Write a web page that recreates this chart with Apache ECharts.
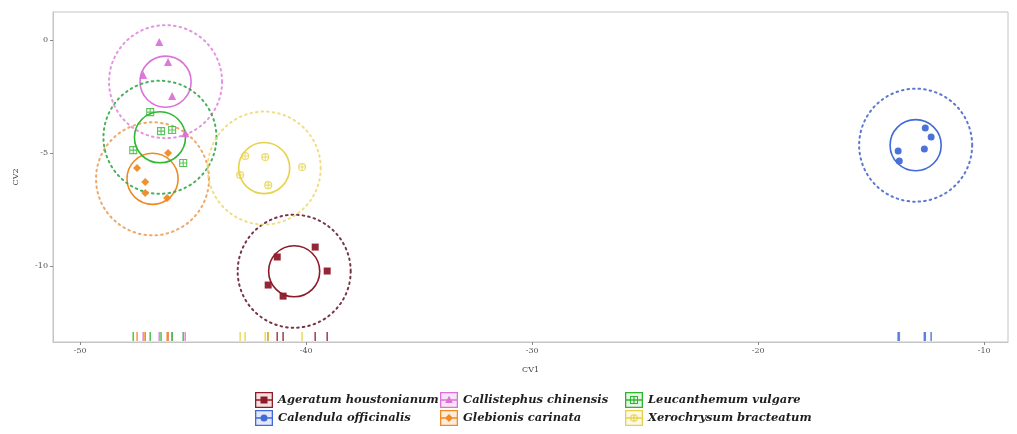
<!DOCTYPE html>
<html>
<head>
<meta charset="utf-8">
<style>
  html, body { margin: 0; padding: 0; background: #ffffff; }
  #chart { width: 1017px; height: 434px; }
</style>
<script src="https://cdn.jsdelivr.net/npm/echarts@6/dist/echarts.min.js"></script>
</head>
<body>
<div id="chart"></div>
<script>
// Canonical variate scores (CV1, CV2) for five specimens per species
const speciesNames = [
  'Ageratum houstonianum', 'Calendula officinalis', 'Callistephus chinensis',
  'Glebionis carinata', 'Leucanthemum vulgare', 'Xerochrysum bracteatum'
];
const ageratumPts     = [[-41.28, -9.60], [-39.60, -9.16], [-39.07, -10.22], [-41.68, -10.84], [-41.02, -11.33]];
const calendulaPts    = [[-12.61, -3.89], [-12.35, -4.29], [-12.65, -4.82], [-13.81, -4.91], [-13.76, -5.35]];
const callistephusPts = [[-46.50, -0.09], [-46.11, -0.97], [-47.21, -1.55], [-45.93, -2.48], [-45.35, -4.12]];
const glebionisPts    = [[-46.11, -5.00], [-47.48, -5.66], [-47.12, -6.28], [-46.15, -6.99], [-47.12, -6.77]];
const leucanthemumPts = [[-47.65, -4.87], [-46.90, -3.19], [-46.42, -4.03], [-45.93, -3.98], [-45.44, -5.44]];
const xerochrysumPts  = [[-42.70, -5.13], [-41.81, -5.18], [-41.68, -6.42], [-40.18, -5.62], [-42.92, -5.97]];

// Radii (CV units) of the confidence circle around each group mean and of the tolerance region
const meanCircleRadius = 1.13;
const regionCircleRadius = 2.5;

// Axis ticks
const xTicks = [-50, -40, -30, -20, -10];
const yTicks = [-10, -5, 0];
const X_MIN = -51.2, X_MAX = -8.95;
const Y_MIN = -13.36, Y_MAX = 1.24;

const groupPoints = [ageratumPts, calendulaPts, callistephusPts, glebionisPts, leucanthemumPts, xerochrysumPts];

const palette = ['#8e1b2a', '#4169d8', '#da72d8', '#f08a24', '#2fb52f', '#e6d24a'];
const regionPalette = ['#6a1e30', '#4a68cc', '#e088de', '#eca05a', '#33a84a', '#ecdc7a'];
const tintPalette = ['#f4dede', '#e0e7f8', '#f8e3f8', '#fdebd9', '#dff3df', '#fbf6dc'];

const squareCross = 'path://M0,0H10V10H0ZM5,0V10M0,5H10';
const circleCross = 'path://M10,5A5,5,0,1,1,0,5A5,5,0,1,1,10,5ZM5,0V10M0,5H10';
const markerSymbols = ['rect', 'circle', 'triangle', 'diamond', squareCross, circleCross];
const markerSizes = [7, 7, 8, 8, 7, 7];

// Legend keys: frame + line + marker drawn in one path (18 x 16)
const keyFrame = 'M0,0H18V16H0ZM1.3,1.3V14.7H16.7V1.3Z';
const keyLine = 'M1,7.3H17V8.7H1Z';
const keyMarkers = [
  'M5.5,4.5H12.5V11.5H5.5Z',
  'M12.5,8A3.5,3.5,0,1,1,5.5,8A3.5,3.5,0,1,1,12.5,8Z',
  'M9,3.8L12.8,11H5.2Z',
  'M9,4L13,8L9,12L5,8Z',
  'M5,4H13V12H5ZM6,5V11H12V5ZM8.4,4H9.6V12H8.4Z',
  'M12.8,8A3.8,3.8,0,1,1,5.2,8A3.8,3.8,0,1,1,12.8,8ZM11.8,8A2.8,2.8,0,1,0,6.2,8A2.8,2.8,0,1,0,11.8,8ZM8.4,4.2H9.6V11.8H8.4Z'
];

function mean(pts, k) {
  return pts.reduce((s, p) => s + p[k], 0) / pts.length;
}

const series = [];

// Group circles (solid: mean confidence, dotted: tolerance region)
groupPoints.forEach((pts, i) => {
  series.push({
    type: 'custom',
    name: speciesNames[i],
    coordinateSystem: 'cartesian2d',
    z: 2,
    silent: true,
    data: [[mean(pts, 0), mean(pts, 1)]],
    renderItem: function (params, api) {
      const c = api.coord([api.value(0), api.value(1)]);
      const rIn = api.size([meanCircleRadius, meanCircleRadius])[0];
      const rOut = api.size([regionCircleRadius, regionCircleRadius])[0];
      return {
        type: 'group',
        children: [
          {
            type: 'circle',
            shape: { cx: c[0], cy: c[1], r: rOut },
            style: { fill: null, stroke: regionPalette[i], lineWidth: 2, lineDash: [1.6, 4], lineCap: 'round', opacity: 0.9 }
          },
          {
            type: 'circle',
            shape: { cx: c[0], cy: c[1], r: rIn },
            style: { fill: null, stroke: palette[i], lineWidth: 1.6 }
          }
        ]
      };
    }
  });
});

// Rug ticks along the CV1 axis
groupPoints.forEach((pts, i) => {
  series.push({
    type: 'custom',
    name: speciesNames[i],
    coordinateSystem: 'cartesian2d',
    z: 3,
    silent: true,
    data: pts,
    renderItem: function (params, api) {
      const p = api.coord([api.value(0), Y_MIN]);
      return {
        type: 'line',
        shape: { x1: p[0], y1: p[1] - 1, x2: p[0], y2: p[1] - 10 },
        style: { stroke: palette[i], lineWidth: 1.6, opacity: 0.8 }
      };
    }
  });
});

// Specimen scores
groupPoints.forEach((pts, i) => {
  const open = i >= 4;
  series.unshift({
    type: 'scatter',
    name: speciesNames[i],
    z: 5,
    data: pts,
    symbol: markerSymbols[i],
    symbolSize: markerSizes[i],
    itemStyle: open
      ? { color: 'rgba(0,0,0,0)', borderColor: palette[i], borderWidth: 1.1 }
      : { color: palette[i], opacity: 0.95 }
  });
});

// Legend laid out in three columns of two keys
const legendColumnLeft = [255, 440, 625];
const legendRowTop = [392, 410];
const legendCell = [[0, 0], [0, 1], [1, 0], [1, 1], [2, 0], [2, 1]];
const legendText = {
  fontFamily: 'DejaVu Serif',
  fontStyle: 'italic',
  fontWeight: 'bold',
  fontSize: 11.5,
  color: '#1e1e1e'
};

const legends = [];
speciesNames.forEach((name, i) => {
  const left = legendColumnLeft[legendCell[i][0]];
  const top = legendRowTop[legendCell[i][1]];
  // tinted key background
  legends.push({
    left: left, top: top, padding: 0,
    itemWidth: 18, itemHeight: 16, z: 3,
    selectedMode: false,
    textStyle: Object.assign({}, legendText, { color: 'rgba(0,0,0,0)' }),
    data: [{ name: name, icon: 'rect', itemStyle: { color: tintPalette[i], borderWidth: 0 } }]
  });
  // key and label
  legends.push({
    left: left, top: top, padding: 0,
    itemWidth: 18, itemHeight: 16, z: 4,
    selectedMode: false,
    textStyle: legendText,
    data: [{
      name: name,
      icon: 'path://' + keyFrame + keyLine + keyMarkers[i],
      itemStyle: { color: palette[i], borderWidth: 0, opacity: 1 }
    }]
  });
});

const axisFont = { fontFamily: 'DejaVu Serif', fontSize: 8, color: '#555555' };

const option = {
  animation: false,
  backgroundColor: '#ffffff',
  grid: {
    left: 53, right: 9, top: 12, bottom: 92,
    show: true, borderColor: '#c4c4c4', borderWidth: 1, backgroundColor: 'transparent'
  },
  legend: legends,
  xAxis: {
    type: 'value', min: X_MIN, max: X_MAX,
    name: 'CV1', nameLocation: 'middle', nameGap: 24,
    nameTextStyle: { fontFamily: 'DejaVu Serif', fontSize: 8, color: '#444444' },
    axisLine: { show: true, onZero: false, lineStyle: { color: '#c4c4c4', width: 1 } },
    axisTick: { show: true, length: 3, customValues: xTicks, lineStyle: { color: '#888888' } },
    axisLabel: Object.assign({ customValues: xTicks, margin: 5 }, axisFont),
    splitLine: { show: false }
  },
  yAxis: {
    type: 'value', min: Y_MIN, max: Y_MAX,
    name: 'CV2', nameLocation: 'middle', nameGap: 33,
    nameTextStyle: { fontFamily: 'DejaVu Serif', fontSize: 8, color: '#444444' },
    axisLine: { show: true, onZero: false, lineStyle: { color: '#c4c4c4', width: 1 } },
    axisTick: { show: true, length: 3, customValues: yTicks, lineStyle: { color: '#888888' } },
    axisLabel: Object.assign({ customValues: yTicks, margin: 5 }, axisFont),
    splitLine: { show: false }
  },
  series: series
};

const chart = echarts.init(document.getElementById('chart'), null, { renderer: 'canvas' });
chart.setOption(option);
</script>
</body>
</html>
